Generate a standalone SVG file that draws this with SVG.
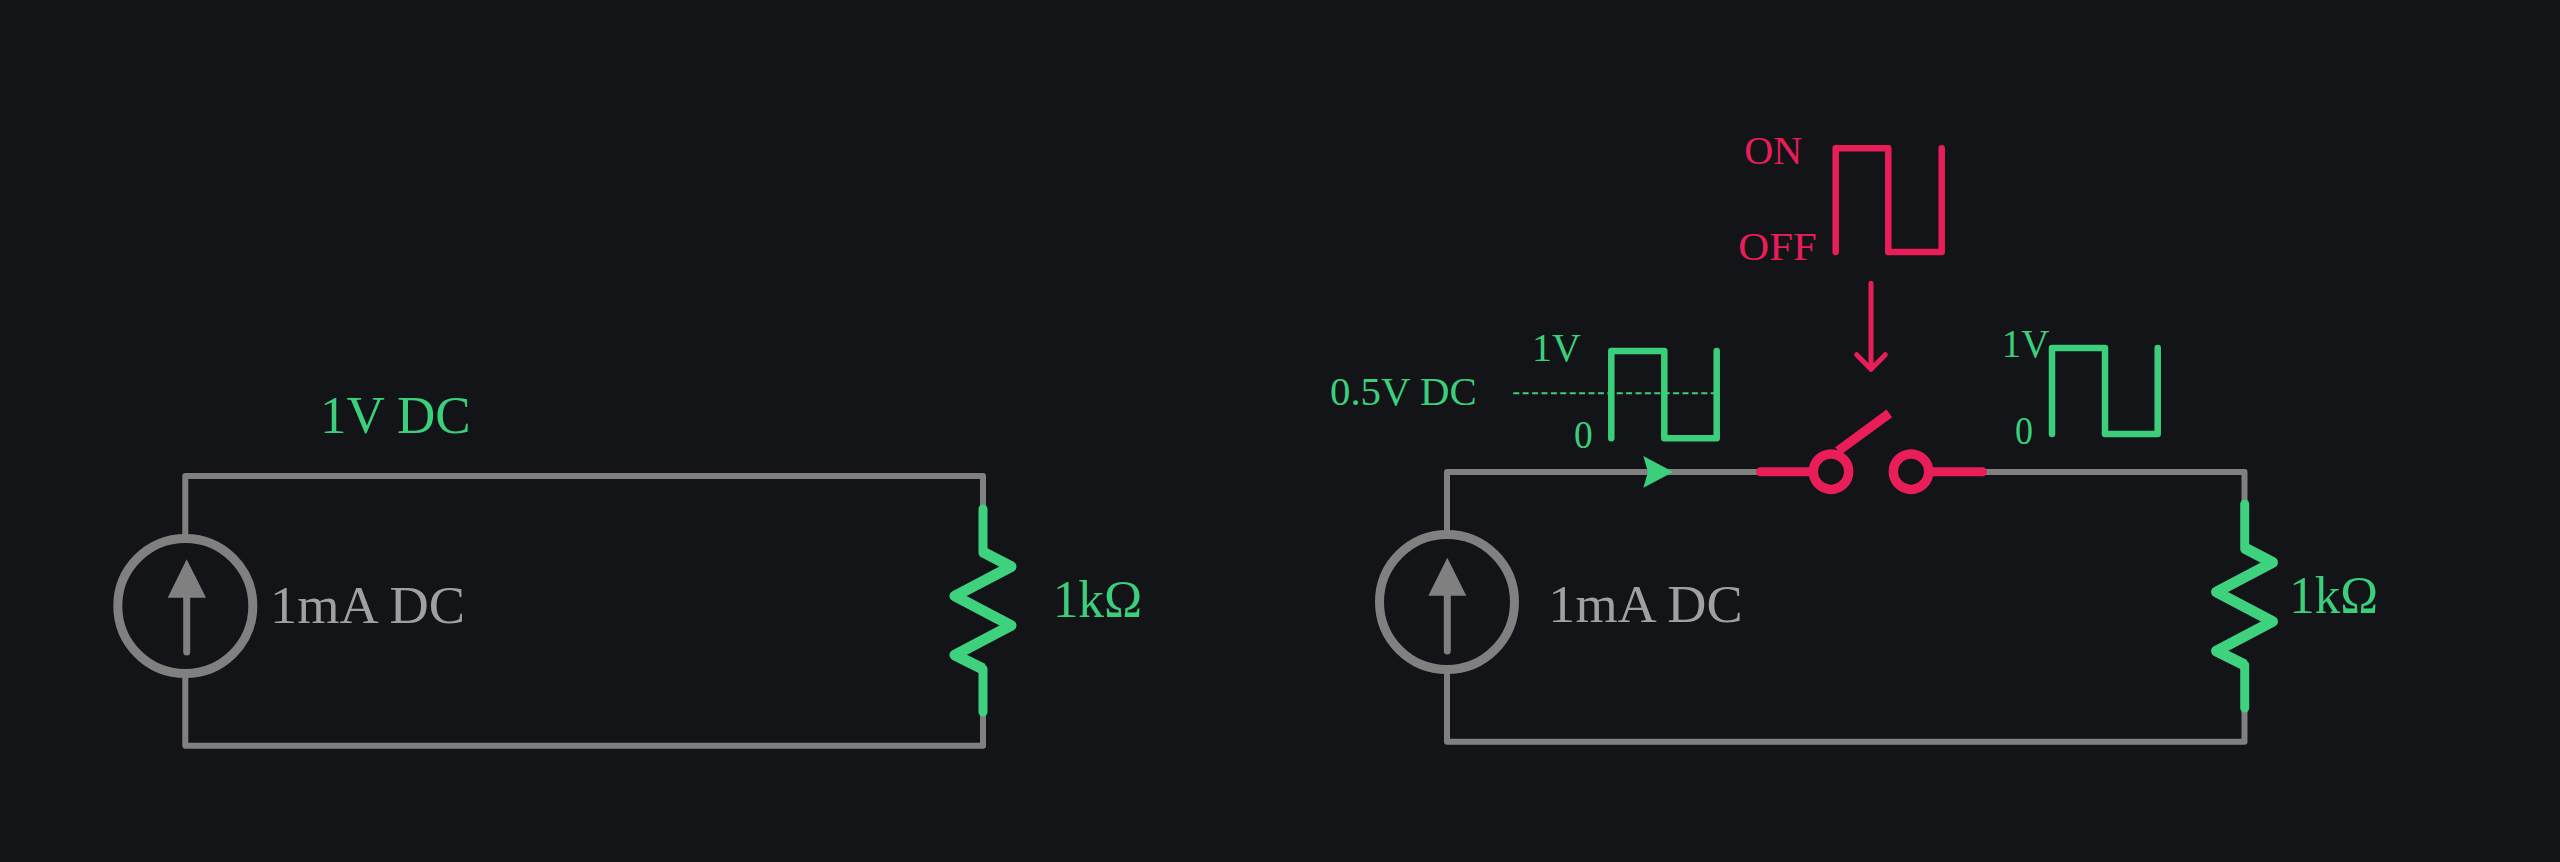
<svg xmlns="http://www.w3.org/2000/svg" width="2560" height="862" viewBox="0 0 2560 862">
<style>
text{font-family:"Liberation Serif","Times New Roman",serif;font-size:52px}
.s{font-size:39px}
.g{fill:#3ccf7b}
.w{fill:#a0a0a0}
.r{fill:#e91e58}
.wire{fill:none;stroke:#808080;stroke-width:6;stroke-linejoin:round;stroke-linecap:round}
.ring{fill:none;stroke:#808080;stroke-width:9}
.shaft{fill:none;stroke:#808080;stroke-width:7;stroke-linecap:round}
.head{fill:#808080}
.res{fill:none;stroke:#3ed27e;stroke-width:9;stroke-linejoin:round;stroke-linecap:round}
.zig{fill:none;stroke:#3ed27e;stroke-width:11;stroke-linejoin:round;stroke-linecap:butt}
.pg{fill:none;stroke:#3ccf7b;stroke-width:6.5;stroke-linejoin:round;stroke-linecap:round}
.pr{fill:none;stroke:#e91e58;stroke-width:6.5;stroke-linejoin:round;stroke-linecap:round}
.sw{fill:none;stroke:#e91e58;stroke-width:9.5}
</style>
<rect width="2560" height="862" fill="#121418"/>
<g id="connectors">
<path class="wire" d="M185.3 538.5V476H983V512M983 708V745.7H185.3V674"/>
<path class="wire" d="M1447 534.5V472H1760M1982 472H2244.5V508M2244.5 704V741.7H1447V670"/>
<path d="M1760.5 471.7H1813M1929 471.7H1982.5" stroke="#e91e58" stroke-width="9" stroke-linecap="round" fill="none"/>
<path d="M1871 283.3V369.3M1856.7 354.7L1871 369.3L1885.3 354.7" fill="none" stroke="#e91e58" stroke-width="5" stroke-linecap="round" stroke-linejoin="round"/>
<path d="M1673.3 472L1643.3 456L1648 472L1643.3 487.7Z" fill="#3ccf7b"/>
</g>
<g id="source-left">
<circle class="ring" cx="185.3" cy="606" r="67.5"/>
<path class="shaft" d="M186.7 652V590"/>
<path class="head" d="M186.7 559.3L206 597.7H167.7Z"/>
<text class="w" x="270" y="623" textLength="195" lengthAdjust="spacingAndGlyphs">1mA DC</text>
</g>
<g id="resistor-left">
<path class="res" d="M983 509V553M983 669V712"/>
<path class="zig" d="M983 552L1011 566.7L955 596L1011 625.5L955 655L983 669"/>
<text class="g" x="1052.7" y="617.3" textLength="89.5" lengthAdjust="spacingAndGlyphs">1kΩ</text>
</g>
<g id="label-left">
<text class="g" x="320" y="433.3" textLength="150.7" lengthAdjust="spacingAndGlyphs">1V DC</text>
</g>
<g id="source-right">
<circle class="ring" cx="1447" cy="602" r="67.5"/>
<path class="shaft" d="M1447.3 651V586"/>
<path class="head" d="M1447.3 557.7L1466.3 595.7H1428.3Z"/>
<text class="w" x="1548.3" y="621.7" textLength="194.4" lengthAdjust="spacingAndGlyphs">1mA DC</text>
</g>
<g id="resistor-right">
<path class="res" d="M2244.7 504V549M2244.7 665V708"/>
<path class="zig" d="M2244.7 548L2272.5 562.5L2216.5 592L2272.5 621.5L2216.5 651L2244.7 665"/>
<text class="g" x="2289.3" y="612.7" textLength="88.7" lengthAdjust="spacingAndGlyphs">1kΩ</text>
</g>
<g id="wave-in">
<path d="M1513.3 393.3H1716" stroke="#3ccf7b" stroke-width="2" stroke-dasharray="6 3.4" fill="none"/>
<path class="pg" d="M1611.3 438.3V351H1664.3V438.3H1716.7V351"/>
<text class="g s" x="1532" y="360.7" textLength="48.7" lengthAdjust="spacingAndGlyphs">1V</text>
<text class="g s" x="1330" y="405" textLength="146.7" lengthAdjust="spacingAndGlyphs">0.5V DC</text>
<text class="g s" x="1574" y="448.3" textLength="18.7" lengthAdjust="spacingAndGlyphs">0</text>
</g>
<g id="wave-ctrl">
<path class="pr" d="M1835.7 252V148.3H1888.3V252H1941.7V148.3"/>
<text class="r s" x="1744.3" y="164.3" textLength="58" lengthAdjust="spacingAndGlyphs">ON</text>
<text class="r s" x="1738.3" y="260" textLength="78.4" lengthAdjust="spacingAndGlyphs">OFF</text>
</g>
<g id="switch">
<circle class="sw" cx="1831" cy="471.7" r="17.7"/>
<circle class="sw" cx="1911" cy="471.7" r="17.7"/>
<path class="sw" d="M1838 451L1889.3 413.3"/>
</g>
<g id="wave-out">
<path class="pg" d="M2052 434V348H2105V434H2157.7V348"/>
<text class="g s" x="2001.7" y="356.7" textLength="47.6" lengthAdjust="spacingAndGlyphs">1V</text>
<text class="g s" x="2015" y="444.3" textLength="18" lengthAdjust="spacingAndGlyphs">0</text>
</g>
</svg>
